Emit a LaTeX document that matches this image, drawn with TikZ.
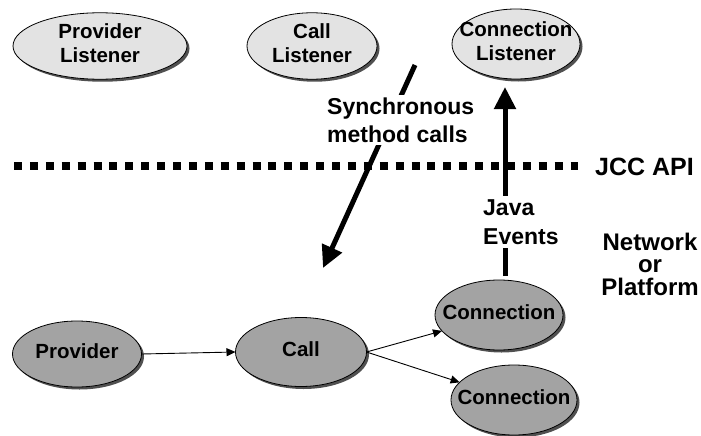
\documentclass[tikz,border=0pt]{standalone}
\usepackage{fontspec}
\setmainfont{Liberation Sans}
\usetikzlibrary{shapes.geometric,arrows.meta,shadows}
\definecolor{lightfill}{HTML}{E3E3E3}
\definecolor{darkfill}{HTML}{A3A3A3}
\definecolor{shadowcol}{HTML}{505050}
\newcommand{\nodefont}{\fontsize{20.5pt}{23.5pt}\selectfont\bfseries}
\newcommand{\ztext}[1]{\makebox[0pt][c]{\begin{tabular}{@{}c@{}}#1\end{tabular}}}
\tikzset{
  ellnode/.style={shape=ellipse, draw=black, line width=0.8pt, inner sep=0pt, outer sep=0pt,
    font=\nodefont, drop shadow={shadow xshift=2.5pt, shadow yshift=-2.5pt, fill=shadowcol, opacity=1}},
  listener/.style={ellnode, fill=lightfill},
  model/.style={ellnode, fill=darkfill},
  thinarrow/.style={line width=0.9pt, -{Triangle[length=9pt,width=8pt]}},
  thickarrow/.style={line width=5pt, -{Triangle[length=22pt,width=21pt]}},
  labeltext/.style={font=\fontsize{23pt}{28pt}\selectfont\bfseries, fill=white, inner sep=3pt},
  apiline/.style={line width=8pt, dash pattern=on 8pt off 7.9pt}
}
\begin{document}
\begin{tikzpicture}[x=1pt,y=-1pt]
\useasboundingbox (0,0) rectangle (701,436);
% top listeners
\node[listener, minimum width=174pt, minimum height=65pt] (PL) at (100,46) {\ztext{Provider\\Listener}};
\node[listener, minimum width=130pt, minimum height=65pt] (CL) at (312,46) {\ztext{Call\\Listener}};
\node[listener, minimum width=128pt, minimum height=70pt] (CnL) at (516,44) {\ztext{Connection\\Listener}};
% bottom objects
\node[model, minimum width=129pt, minimum height=66pt] (P) at (77,354) {\ztext{Provider}};
\node[model, minimum width=131pt, minimum height=69pt] (C) at (301,352) {\ztext{Call}};
\node[model, minimum width=128pt, minimum height=70pt] (Cn1) at (499,315) {\ztext{Connection}};
\node[model, minimum width=126pt, minimum height=70pt] (Cn2) at (514,400) {\ztext{Connection}};
% API line
\coordinate (api1) at (14,166);
\coordinate (api2) at (578,166);
\draw[apiline] (api1) -- (api2);
\node[font=\fontsize{25pt}{28pt}\selectfont\bfseries, anchor=west, inner sep=0pt] (api) at (595,167) {JCC API};
% thick arrows
\coordinate (s1) at (415,65);
\coordinate (s2) at (323,268);
\draw[thickarrow] (s1) -- (s2);
\node[labeltext, align=left, anchor=west] (sync) at (324,120) {Synchronous\\method calls};
\coordinate (j1) at (505,276);
\coordinate (j2) at (505,87);
\draw[thickarrow] (j1) -- (j2);
\node[labeltext, align=left, anchor=west, font=\fontsize{23pt}{29pt}\selectfont\bfseries] (java) at (480,222) {Java\\Events};
% network label
\node[font=\fontsize{24pt}{22.5pt}\selectfont\bfseries, align=center] (net) at (650,264) {Network\\or\\Platform};
% thin arrows
\draw[thinarrow] (P.east) -- (C.west);
\draw[thinarrow] (C.east) -- (Cn1);
\draw[thinarrow] (C.east) -- (Cn2);
\end{tikzpicture}
\end{document}
